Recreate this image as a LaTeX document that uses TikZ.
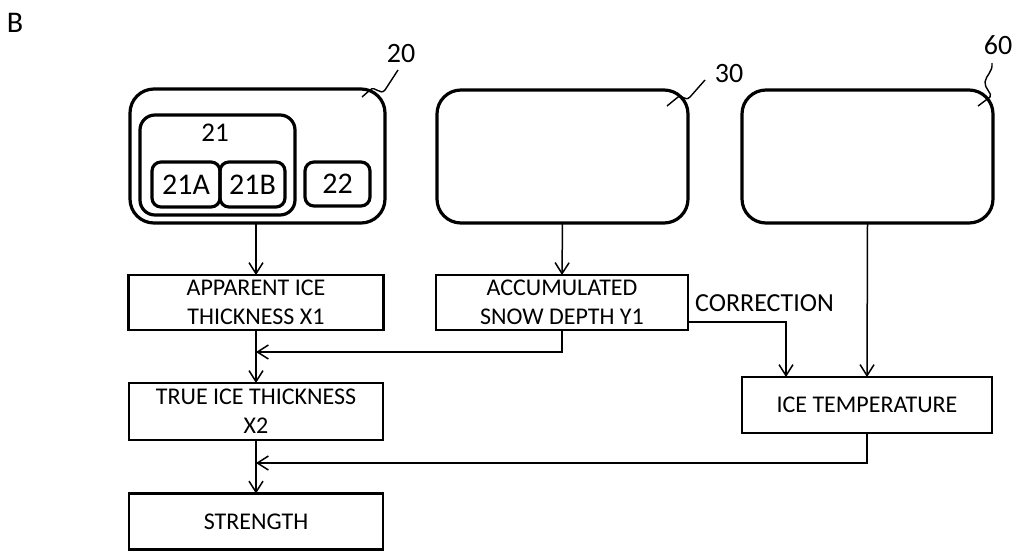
\documentclass[tikz,border=0pt]{standalone}
\usepackage{fontspec}
\setmainfont{Carlito}
\usetikzlibrary{arrows.meta,calc}
\begin{document}
\begin{tikzpicture}[x=1pt,y=-1pt,
  rbox/.style={draw,line width=3.2pt,rounded corners=#1,inner sep=0pt,outer sep=0pt},
  sbox/.style={draw,line width=2.8pt,inner sep=0pt,outer sep=0pt,align=center,
     font=\fontsize{24}{29}\selectfont},
  conn/.style={line width=1.5pt},
  arr/.style={conn,-{Straight Barb[length=11pt,width=14pt,line width=1.5pt]}},
  lbl/.style={inner sep=0pt,font=\fontsize{28}{30}\selectfont},
  leader/.style={line width=1.4pt}]
\useasboundingbox (0,0) rectangle (1017,552);
\node[lbl,font=\fontsize{30}{32}\selectfont] (B) at (15,23) {B};
% top boxes
\node[rbox=24pt,minimum width=255pt,minimum height=134pt] (b20) at (257.5,156) {};
\node[rbox=15pt,minimum width=155pt,minimum height=100pt] (b21) at (217.5,165) {};
\node[rbox=9pt,minimum width=68pt,minimum height=45pt,font=\fontsize{30}{32}\selectfont] (b21A) at (186,184.5) {21A};
\node[rbox=9pt,minimum width=65pt,minimum height=45pt,font=\fontsize{30}{32}\selectfont] (b21B) at (252.5,184.5) {21B};
\node[rbox=9pt,minimum width=65pt,minimum height=44pt,font=\fontsize{30}{32}\selectfont] (b22) at (337.5,184) {22};
\node[lbl,font=\fontsize{27}{29}\selectfont] (l21) at (215,133) {21};
\node[rbox=24pt,minimum width=251pt,minimum height=133pt] (b30) at (562.5,156.5) {};
\node[rbox=24pt,minimum width=251pt,minimum height=133pt] (b60) at (867.5,156.5) {};
% reference numerals
\node[lbl] (l20) at (401,54) {20};
\node[lbl] (l30) at (729,74) {30};
\node[lbl] (l60) at (998,45) {60};
\draw[leader] (362,97) -- (370,90) .. controls (375,85) and (380,96) .. (385,90) -- (398,70);
\draw[leader] (667,106) -- (678,97) .. controls (682,94) and (685,102) .. (690,97) -- (705,80);
\draw[leader] (978,106) -- (990,97) .. controls (993,94) and (984,88) .. (985,82)
   .. controls (986,75) and (993,72) .. (992,63);
% lower boxes
\node[sbox,minimum width=255pt,minimum height=55pt] (app) at (256,302.5) {APPARENT ICE\\THICKNESS X1};
\node[sbox,minimum width=252pt,minimum height=55pt] (acc) at (562,302.5) {ACCUMULATED\\SNOW DEPTH Y1};
\node[sbox,minimum width=254pt,minimum height=57pt] (true) at (256,411.5) {TRUE ICE THICKNESS\\X2};
\node[sbox,minimum width=254pt,minimum height=56pt] (str) at (256,521.5) {STRENGTH};
\node[sbox,minimum width=250pt,minimum height=56pt] (ice) at (867,405) {ICE TEMPERATURE};
\node[inner sep=0pt,anchor=west,font=\fontsize{26}{28}\selectfont] (corr) at (695,303) {CORRECTION};
% junctions
\coordinate (j1) at (256,352);
\coordinate (j2) at (256,463);
\coordinate (c1) at ($(ice.north west)+(44pt,0pt)$);
\coordinate (c0) at ($(acc.east)+(0pt,-19.5pt)$);
% connectors
\draw[arr] (app.north |- b20.south) -- (app.north);
\draw[arr] (b30.south) -- (acc.north);
\draw[arr] (b60.south) -- (ice.north);
\draw[arr] (acc.south) |- (j1);
\draw[arr] (app.south) -- (true.north);
\draw[arr] (c0) -| (c1);
\draw[arr] (ice.south) |- (j2);
\draw[arr] (true.south) -- (str.north);
\end{tikzpicture}
\end{document}
